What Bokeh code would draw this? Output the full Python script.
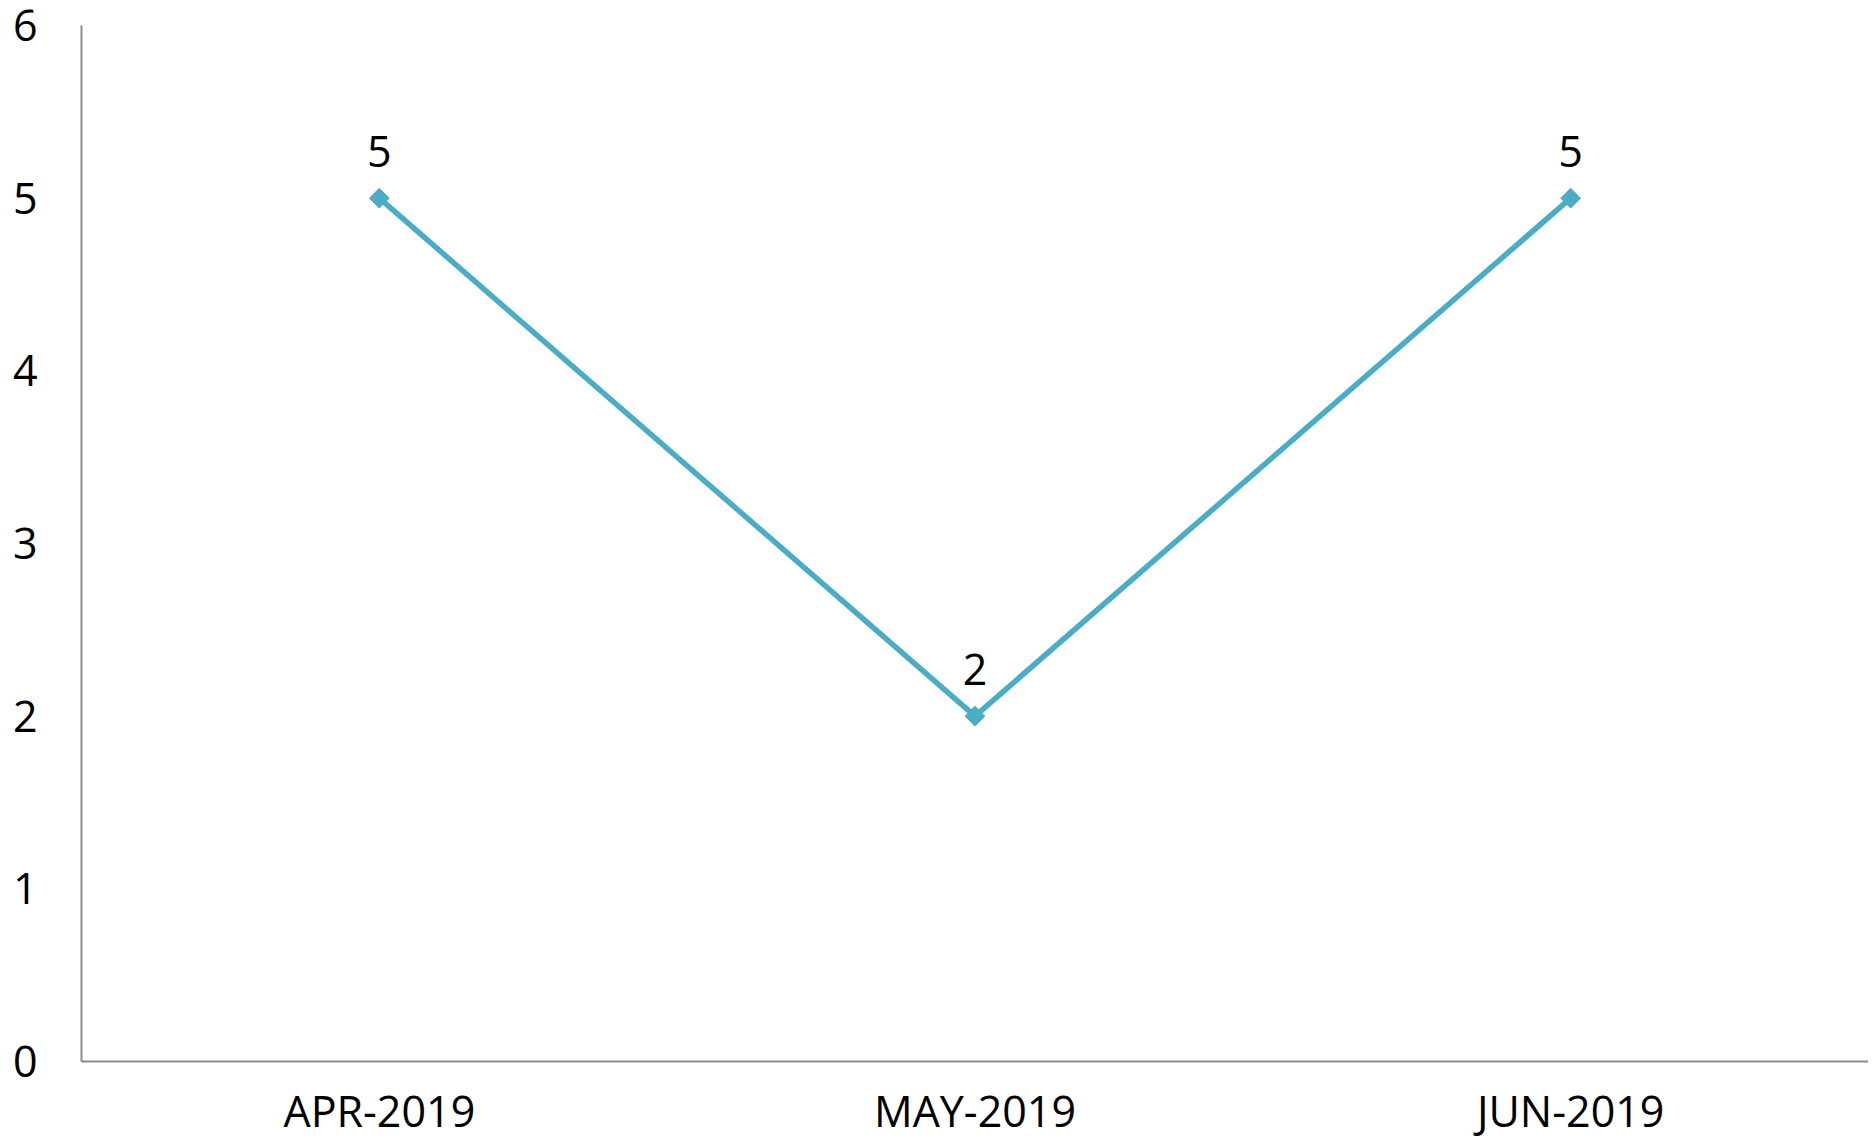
import math
from bokeh.plotting import figure
from bokeh.models import ColumnDataSource, Range1d, FactorRange, FixedTicker
from bokeh.core.properties import value
from bokeh.embed import file_html
from bokeh.resources import INLINE

months = ["APR-2019", "MAY-2019", "JUN-2019"]
counts = [5, 2, 5]
y_ticks = [0, 1, 2, 3, 4, 5, 6]

FONT = "Open Sans"
LINE = "#4BACC6"

src = ColumnDataSource(dict(x=months, y=counts, lbl=[str(v) for v in counts]))

p = figure(x_range=FactorRange(*months), y_range=Range1d(0, 6),
           width=1868, height=1143, output_backend="svg", toolbar_location=None,
           min_border_left=81, min_border_top=25, min_border_right=0, min_border_bottom=82)
p.outline_line_color = None
p.grid.visible = False
p.background_fill_color = "white"

p.line("x", "y", source=src, line_color=LINE, line_width=5.5)
p.scatter("x", "y", source=src, marker="square", size=14, angle=math.pi / 4,
          fill_color=LINE, line_color=LINE)
p.text("x", "y", text="lbl", source=src, y_offset=-47, text_align="center",
       text_baseline="middle", text_font=value(FONT), text_font_size="43px", text_color="black")

for ax in (p.xaxis[0], p.yaxis[0]):
    ax.axis_line_color = "#8c8c8c"
    ax.axis_line_width = 2
    ax.major_tick_line_color = None
    ax.minor_tick_line_color = None
    ax.major_label_text_font = FONT
    ax.major_label_text_font_size = "43px"
    ax.major_label_text_color = "black"

p.yaxis.ticker = FixedTicker(ticks=y_ticks)
p.yaxis.major_label_standoff = 38
p.xaxis.major_label_standoff = 13

open("out.html", "w").write(file_html(p, INLINE))
